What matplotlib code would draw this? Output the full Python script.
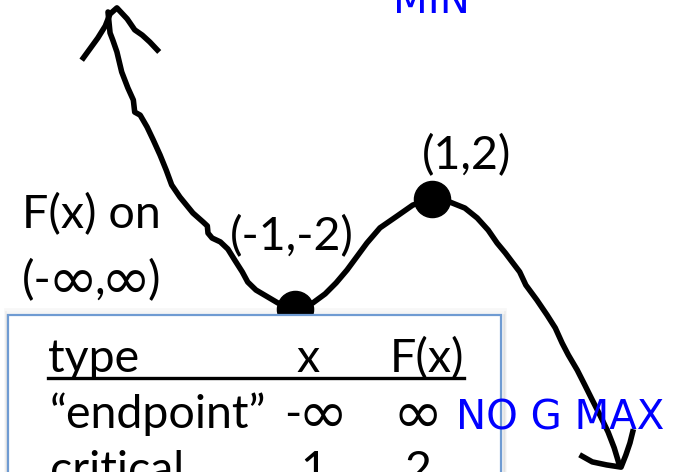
import matplotlib
matplotlib.use("Agg")
import numpy as np
import matplotlib.pyplot as plt
from matplotlib.patches import Rectangle

W, H = 675, 472

# hand-drawn sketch of F(x), in function units
curve_x = [-3.73, -3.70, -3.66, -3.60, -3.53, -3.44, -3.36, -3.34, -3.26, -3.16,
           -3.07, -2.97, -2.88, -2.80, -2.68, -2.49, -2.34, -2.28, -2.27, -2.21,
           -2.09, -1.98, -1.88, -1.77, -1.69, -1.57, -1.42, -1.25, -1.00, -0.74,
           -0.56, -0.40, -0.24, -0.08, 0.05, 0.24, 0.49, 0.72, 1.00, 1.26,
           1.48, 1.66, 1.82, 1.95, 2.07, 2.17, 2.28, 2.37, 2.53, 2.68,
           2.80, 2.90, 2.99, 3.12, 3.23, 3.34, 3.45, 3.57, 3.66, 3.74]
curve_y = [8.80, 8.04, 7.78, 7.35, 6.62, 6.04, 5.60, 5.16, 5.05, 4.62,
           4.15, 3.60, 3.05, 2.51, 2.07, 1.49, 1.16, 1.02, 0.76, 0.58,
           0.44, 0.18, -0.22, -0.65, -1.02, -1.31, -1.53, -1.78, -2.00, -1.78,
           -1.45, -1.05, -0.58, -0.04, 0.40, 0.95, 1.38, 1.78, 2.00, 1.89,
           1.67, 1.31, 0.87, 0.40, 0.04, -0.29, -0.65, -1.13, -1.67, -2.22,
           -2.69, -3.24, -3.67, -4.22, -4.76, -5.31, -5.85, -6.47, -7.05, -7.71]

# arrowheads at both ends
top_head_x = [-4.09, -3.88, -3.77, -3.70, -3.60, -3.45, -3.34, -3.23, -3.12, -3.01]
top_head_y = [7.13, 7.85, 8.29, 8.73, 8.95, 8.55, 8.15, 7.96, 7.71, 7.42]
bot_head_x = [3.19, 3.34, 3.55, 3.76, 3.83, 3.89, 3.93]
bot_head_y = [-7.35, -7.56, -7.67, -7.75, -7.31, -6.87, -6.47]

# critical points
crit_x = [-1, 1]
crit_y = [-2, 2]

# table contents
table_header = ['type', 'x', 'F(x)']
table_rows = [['\u201cendpoint\u201d', '-\u221e', '\u221e'],
              ['critical', '1', '2']]

fig = plt.figure(figsize=(W / 100, H / 100), dpi=100)
ax = fig.add_axes([0, 0, 1, 1])
ax.set_xlim(-363.5 / 68.5, (W - 363.5) / 68.5)
ax.set_ylim((254 - H) / 27.5, 254 / 27.5)
ax.axis('off')
renderer = fig.canvas.get_renderer()

def px(x, y):
    return x / W, 1 - y / H

BODY = 'Lato'
SYM = 'DejaVu Sans'
FS = 33.5
INF_SCALE = 1.3
INF_DROP = 5  # px, keeps the bigger infinity on the text line
INF_TRIM = 4  # px of side bearing to drop on each side of the infinity

def label(x, y, s, ha='left', va='baseline', **kw):
    # Lato for letters, DejaVu for the wide infinity sign
    parts, cur = [], ''
    for ch in s:
        if ch == '\u221e':
            if cur:
                parts.append((cur, BODY))
                cur = ''
            parts.append((ch, SYM))
        else:
            cur += ch
    if cur:
        parts.append((cur, BODY))
    objs = [fig.text(0, 0, p, family=f, fontsize=FS if f == BODY else FS * INF_SCALE,
                     va=va, ha='left', **kw) for p, f in parts]
    widths = [o.get_window_extent(renderer).width - (2 * INF_TRIM if f == SYM else 0)
              for o, (p, f) in zip(objs, parts)]
    total = sum(widths)
    x0 = x - {'left': 0, 'center': total / 2, 'right': total}[ha]
    for o, w, (p, f) in zip(objs, widths, parts):
        if f == SYM:
            o.set_position(px(x0 - INF_TRIM, y + INF_DROP))
        else:
            o.set_position(px(x0, y))
        x0 += w

# table frame with a soft shadow
for i, a in enumerate([0.05, 0.04, 0.03]):
    fig.patches.append(Rectangle(px(8 - 1 - i, 500), (494 + 2 + 2 * i) / W, (185 + 3 * i) / H,
                                 transform=fig.transFigure, facecolor='none',
                                 edgecolor='black', alpha=a, lw=2, zorder=0))
fig.patches.append(Rectangle(px(8, 500), 493 / W, 185 / H, transform=fig.transFigure,
                             facecolor='white', edgecolor='#6f9bd2', lw=1.6, zorder=1))

ax.plot(curve_x, curve_y, color='black', lw=4.0, solid_capstyle='round',
        solid_joinstyle='round', zorder=3)
ax.plot(top_head_x, top_head_y, color='black', lw=4.0, solid_joinstyle='round', zorder=3)
ax.plot(bot_head_x, bot_head_y, color='black', lw=4.0, solid_joinstyle='round', zorder=3)
ax.plot(crit_x, crit_y, 'o', color='black', markersize=26, zorder=4)

blue = dict(family='DejaVu Sans', fontsize=29, color='#0000ff')

label(22, 228, 'F(x) on')
label(22, 294, '(-\u221e,\u221e)')
label(230, 250, '(-1,-2)')
label(422, 169, '(1,2)')
fig.text(*px(431, 13), 'MIN', va='baseline', ha='center', **blue)
fig.text(*px(456, 430), 'NO G MAX', va='baseline', ha='left', **blue, zorder=5)

# table text
label(48, 372, table_header[0])
label(308, 372, table_header[1], ha='center')
label(464, 372, table_header[2], ha='right')
fig.lines.append(plt.Line2D([48 / W, 464 / W], [1 - 378 / H] * 2, transform=fig.transFigure,
                            color='black', lw=2.4))
row_base = [428, 484]
for row, yb in zip(table_rows, row_base):
    label(50, yb, row[0])
    label(314, yb, row[1], ha='center')
    label(418, yb, row[2], ha='center')

fig.savefig('out.png', dpi=100)
